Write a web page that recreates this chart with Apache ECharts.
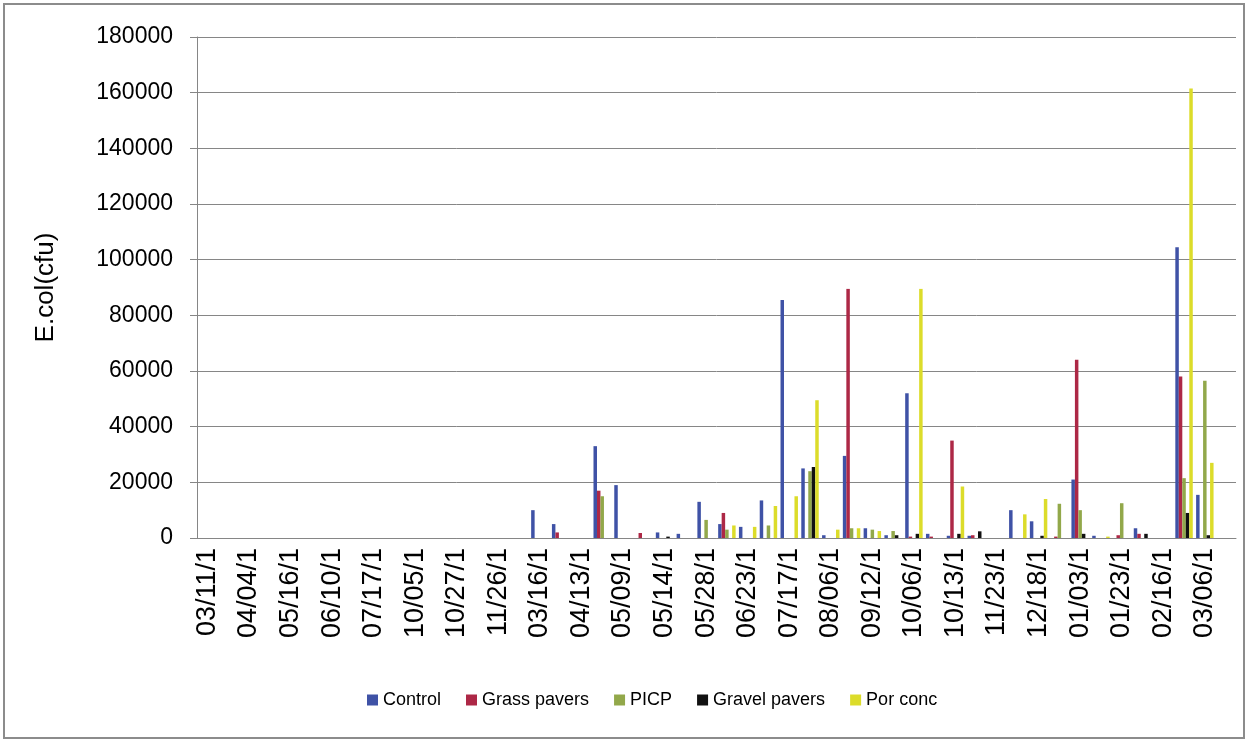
<!DOCTYPE html>
<html lang="en">
<head>
    <meta charset="UTF-8">
</head>
<style>
    html, body {
        width: 100%;
        height: 100%;
        margin: 0;
        background: #fff;
    }
</style>
<body>

<div id="main" style="width:1249px;height:742px;"></div>

<script src="https://cdn.jsdelivr.net/npm/echarts@6/dist/echarts.min.js" type="text/javascript"></script>

<script type="text/javascript">

    // sampling dates (labels are cut off in the original chart, only every other one shows)
    let dates = [
        '03/11/1', '03/25/1', '04/04/1', '04/22/1', '05/16/1', '05/28/1', '06/10/1', '06/24/1', '07/17/1', '08/11/1',
        '10/05/1', '10/13/1', '10/27/1', '11/10/1', '11/26/1', '12/08/1', '03/16/1', '03/30/1', '04/13/1', '04/27/1',
        '05/09/1', '05/12/1', '05/14/1', '05/21/1', '05/28/1', '06/09/1', '06/23/1', '07/06/1', '07/17/1', '07/28/1',
        '08/06/1', '08/20/1', '09/12/1', '09/25/1', '10/06/1', '10/09/1', '10/13/1', '11/03/1', '11/23/1', '12/02/1',
        '12/18/1', '12/28/1', '01/03/1', '01/12/1', '01/23/1', '02/03/1', '02/16/1', '02/28/1', '03/06/1', '03/20/1'
    ];

    let seriesNames = ['Control', 'Grass pavers', 'PICP', 'Gravel pavers', 'Por conc'];

    let control = [
        null, null, null, null, null, null, null, null, null, null,
        null, null, null, null, null, null, 10000, 5000, null, 33000,
        19000, null, 2000, 1500, 13000, 5000, 4000, 13500, 85500, 25000,
        1000, 29500, 3500, 1000, 52000, 1500, 800, 800, null, 10000,
        6000, null, 21000, 800, null, 3500, null, 104500, 15500, null
    ];
    let grassPavers = [
        null, null, null, null, null, null, null, null, null, null,
        null, null, null, null, null, null, null, 2000, null, 17000,
        null, 1800, null, null, null, 9000, null, null, null, null,
        null, 89500, null, null, 500, 500, 35000, 1000, null, null,
        null, 500, 64000, null, 1000, 1500, null, 58000, null, null
    ];
    let picp = [
        null, null, null, null, null, null, null, null, null, null,
        null, null, null, null, null, null, null, null, null, 15000,
        null, null, null, null, 6500, 3000, null, 4500, null, 24000,
        null, 3500, 3000, 2500, null, null, null, null, null, null,
        null, 12300, 10000, null, 12500, null, null, 21500, 56500, null
    ];
    let gravelPavers = [
        null, null, null, null, null, null, null, null, null, null,
        null, null, null, null, null, null, null, null, null, null,
        null, null, 500, null, null, null, null, null, null, 25500,
        null, null, null, 1000, 1500, null, 1500, 2400, null, null,
        800, null, 1500, null, null, 1500, null, 9000, 1000, null
    ];
    let porConc = [
        null, null, null, null, null, null, null, null, null, null,
        null, null, null, null, null, null, null, null, null, null,
        null, null, null, null, null, 4500, 4000, 11500, 15000, 49500,
        3000, 3500, 2500, null, 89500, null, 18500, null, null, 8500,
        14000, null, null, 500, null, null, null, 161500, 27000, null
    ];

    let colors = ['#3f52a6', '#ad2846', '#92a84a', '#111111', '#dcdc2a'];
    let values = [control, grassPavers, picp, gravelPavers, porConc];

    let myEcharts = echarts.init(document.getElementById('main'));

    let font = "'Liberation Sans', Arial, sans-serif";

    let option = {
        animation: false,
        backgroundColor: '#fff',
        color: colors,
        graphic: [{
            type: 'rect',
            shape: {x: 4, y: 4, width: 1240, height: 734},
            style: {fill: 'none', stroke: '#8c8c8c', lineWidth: 2}
        }],
        grid: {
            left: 197,
            right: 13,
            top: 37,
            bottom: 204
        },
        legend: {
            bottom: 28,
            left: 362,
            icon: 'rect',
            itemWidth: 11,
            itemHeight: 11,
            itemGap: 25,
            textStyle: {
                fontFamily: font,
                fontSize: 18,
                color: '#000'
            },
            data: seriesNames
        },
        xAxis: {
            type: 'category',
            data: dates,
            axisLine: {lineStyle: {color: '#868686'}},
            axisTick: {interval: 0, length: 6, lineStyle: {color: '#868686'}},
            axisLabel: {
                interval: 1,
                rotate: 90,
                margin: 10,
                fontFamily: font,
                fontSize: 27,
                color: '#000'
            }
        },
        yAxis: {
            type: 'value',
            min: 0,
            max: 180000,
            interval: 20000,
            name: 'E.col(cfu)',
            nameLocation: 'middle',
            nameGap: 138,
            nameTextStyle: {
                fontFamily: font,
                fontSize: 26,
                color: '#000'
            },
            axisLine: {show: true, lineStyle: {color: '#868686'}},
            axisTick: {show: true, length: 7, lineStyle: {color: '#868686'}},
            splitLine: {lineStyle: {color: '#868686'}},
            axisLabel: {
                margin: 24,
                fontFamily: font,
                fontSize: 23,
                color: '#000',
                formatter: function (v) {
                    return String(v);
                }
            }
        },
        series: seriesNames.map(function (name, i) {
            return {
                name: name,
                type: 'bar',
                barGap: '0%',
                barCategoryGap: '16%',
                data: values[i]
            };
        })
    };

    myEcharts.setOption(option);

</script>
</body>
</html>
